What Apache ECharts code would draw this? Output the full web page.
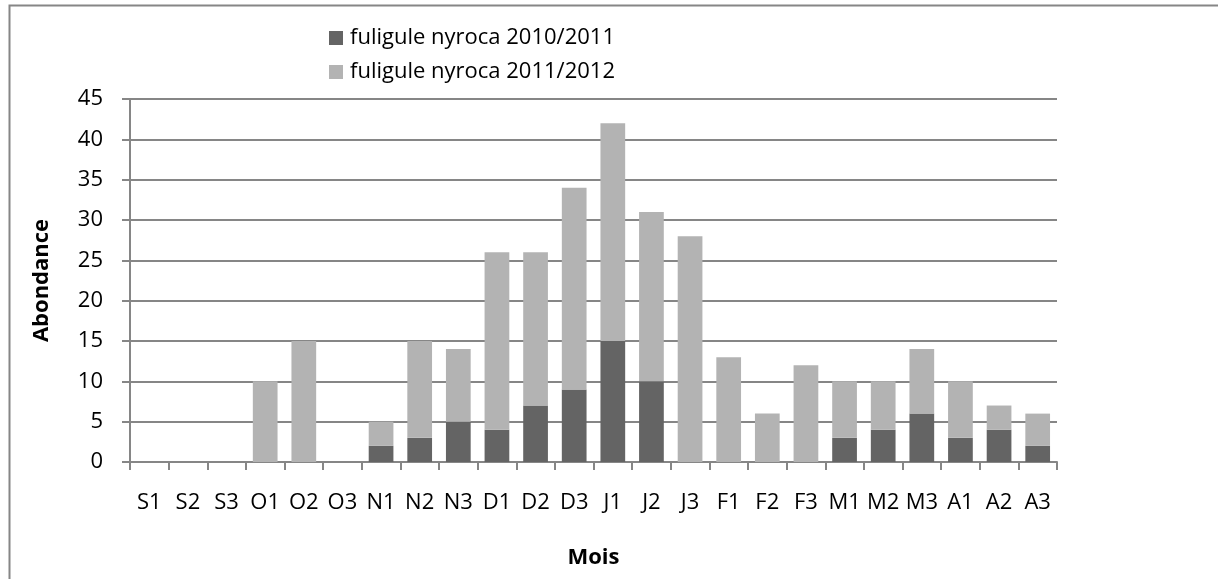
<!DOCTYPE html>
<html>
<head>
<meta charset="utf-8">
<script src="https://cdn.jsdelivr.net/npm/echarts@6/dist/echarts.min.js"></script>
<style>
  html, body { margin: 0; padding: 0; background: #fff; }
  #chart { width: 1218px; height: 579px; }
</style>
</head>
<body>
<div id="chart"></div>
<script>
const months = ['S1', 'S2', 'S3', 'O1', 'O2', 'O3', 'N1', 'N2', 'N3', 'D1', 'D2', 'D3',
  'J1', 'J2', 'J3', 'F1', 'F2', 'F3', 'M1', 'M2', 'M3', 'A1', 'A2', 'A3']
const season1011 = [0, 0, 0, 0, 0, 0, 2, 3, 5, 4, 7, 9, 15, 10, 0, 0, 0, 0, 3, 4, 6, 3, 4, 2]
const season1112 = [0, 0, 0, 10, 15, 0, 3, 12, 9, 22, 19, 25, 27, 21, 28, 13, 6, 12, 7, 6, 8, 7, 3, 4]
const yTicks = { min: 0, max: 45, step: 5 }

const font = '"Open Sans", sans-serif'
const axisGray = '#868686'

const chart = echarts.init(document.getElementById('chart'), null, { renderer: 'canvas' })

chart.setOption({
  animation: false,
  backgroundColor: '#fff',
  textStyle: { fontFamily: font, color: '#000' },
  graphic: [{
    type: 'rect',
    shape: { x: 9.5, y: 5.5, width: 1220, height: 600 },
    style: { fill: 'none', stroke: axisGray, lineWidth: 2 },
    silent: true,
  }],
  legend: {
    orient: 'vertical',
    left: 329,
    top: 27,
    padding: 0,
    itemWidth: 14,
    itemHeight: 14,
    itemGap: 12,
    icon: 'rect',
    textStyle: { fontFamily: font, fontSize: 22, color: '#000', padding: [0, 0, 0, 2] },
    data: ['fuligule nyroca 2010/2011', 'fuligule nyroca 2011/2012'],
  },
  grid: { left: 130, right: 161, top: 99, bottom: 117 },
  xAxis: {
    type: 'category',
    data: months,
    name: 'Mois',
    nameLocation: 'middle',
    nameGap: 85,
    nameTextStyle: { fontFamily: font, fontSize: 22, fontWeight: 'bold', color: '#000' },
    axisLine: { lineStyle: { color: axisGray, width: 2 } },
    axisTick: { show: true, length: 8, lineStyle: { color: axisGray, width: 2 } },
    axisLabel: { interval: 0, margin: 30, fontFamily: font, fontSize: 22, color: '#000' },
  },
  yAxis: {
    type: 'value',
    min: yTicks.min,
    max: yTicks.max,
    interval: yTicks.step,
    name: 'Abondance',
    nameLocation: 'middle',
    nameGap: 77,
    nameRotate: 90,
    nameTextStyle: { fontFamily: font, fontSize: 22, fontWeight: 'bold', color: '#000' },
    axisLine: { show: true, lineStyle: { color: axisGray, width: 2 } },
    axisTick: { show: true, length: 8, lineStyle: { color: axisGray, width: 2 } },
    axisLabel: { margin: 27, fontFamily: font, fontSize: 22, color: '#000' },
    splitLine: { lineStyle: { color: axisGray, width: 2 } },
  },
  series: [
    {
      name: 'fuligule nyroca 2010/2011',
      type: 'bar',
      stack: 'total',
      barCategoryGap: '36%',
      itemStyle: { color: '#646464' },
      data: season1011,
    },
    {
      name: 'fuligule nyroca 2011/2012',
      type: 'bar',
      stack: 'total',
      barCategoryGap: '36%',
      itemStyle: { color: '#b3b3b3' },
      data: season1112,
    },
  ],
})
</script>
</body>
</html>
